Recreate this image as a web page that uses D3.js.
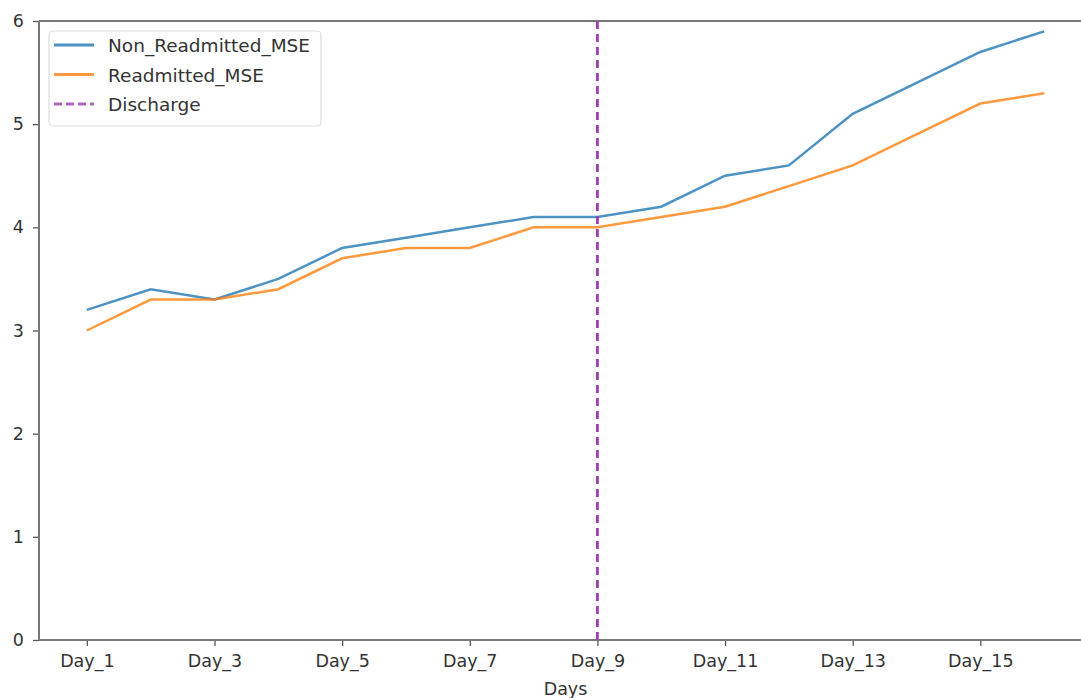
<!DOCTYPE html>
<html><head><meta charset="utf-8">
<script src="https://cdn.jsdelivr.net/npm/d3@7"></script>
<style>body{margin:0;background:#fff}svg{display:block}text{font-family:"DejaVu Sans",sans-serif;fill:#333}</style>
</head><body>
<svg id="c" width="1081" height="698"></svg>
<script>
const days = ["Day_1","Day_2","Day_3","Day_4","Day_5","Day_6","Day_7","Day_8","Day_9","Day_10","Day_11","Day_12","Day_13","Day_14","Day_15","Day_16"];
const nonReadmitted = [3.2,3.4,3.3,3.5,3.8,3.9,4.0,4.1,4.1,4.2,4.5,4.6,5.1,5.4,5.7,5.9];
const readmitted = [3.0,3.3,3.3,3.4,3.7,3.8,3.8,4.0,4.0,4.1,4.2,4.4,4.6,4.9,5.2,5.3];
const yTicks = [0,1,2,3,4,5,6];
const xTickLabels = ["Day_1","Day_3","Day_5","Day_7","Day_9","Day_11","Day_13","Day_15"];
const dischargeDay = "Day_9";

const svg = d3.select("#c");
const L=39, R=1092, T=21, B=640;
const x = d3.scaleLinear().domain([-0.75, days.length-1+0.75]).range([L,R]);
const y = d3.scaleLinear().domain([0,6]).range([B,T]);
const idx = d => days.indexOf(d);

// axes
const xa = svg.append("g").attr("transform",`translate(0,${B})`)
  .call(d3.axisBottom(x).tickValues(xTickLabels.map(idx)).tickFormat(i=>days[i]).tickSize(6).tickPadding(9));
const ya = svg.append("g").attr("transform",`translate(${L},0)`)
  .call(d3.axisLeft(y).tickValues(yTicks).tickFormat(d3.format("d")).tickSize(6).tickPadding(9));
[xa,ya].forEach(g=>{
  g.select(".domain").remove();
  g.selectAll("line").attr("stroke","#555").attr("stroke-width",1.3);
  g.selectAll("text").attr("font-size",17.5).attr("fill","#333").style("font-family","DejaVu Sans");
});
// spines
svg.append("line").attr("x1",L).attr("x2",R).attr("y1",B).attr("y2",B).attr("stroke","#777").attr("stroke-width",2);
svg.append("line").attr("x1",L).attr("x2",R).attr("y1",T).attr("y2",T).attr("stroke","#777").attr("stroke-width",2);
svg.append("line").attr("x1",L).attr("x2",L).attr("y1",T).attr("y2",B).attr("stroke","#777").attr("stroke-width",2);

const line = d3.line().x((d,i)=>x(i)).y(d=>y(d));
svg.append("path").datum(nonReadmitted).attr("d",line).attr("fill","none").attr("stroke","#1f77b4").attr("stroke-width",2.5).attr("opacity",0.8);
svg.append("path").datum(readmitted).attr("d",line).attr("fill","none").attr("stroke","#ff7f0e").attr("stroke-width",2.5).attr("opacity",0.8);
svg.append("line").attr("x1",x(idx(dischargeDay))).attr("x2",x(idx(dischargeDay))).attr("y1",T).attr("y2",B)
  .attr("stroke","#a03cb4").attr("stroke-width",2.8).attr("stroke-dasharray","8,5");

svg.append("text").attr("x",(L+R)/2).attr("y",695).attr("text-anchor","middle").attr("font-size",17.5).text("Days");

// legend
const lg = svg.append("g");
lg.append("rect").attr("x",49).attr("y",31).attr("width",272).attr("height",95).attr("rx",4)
  .attr("fill","#fff").attr("fill-opacity",0.8).attr("stroke","#ddd").attr("stroke-width",1.2);
const items = [["Non_Readmitted_MSE","#1f77b4",null],["Readmitted_MSE","#ff7f0e",null],["Discharge","#a03cb4","8,4"]];
items.forEach((it,i)=>{
  const yy = 45 + i*29.5;
  lg.append("line").attr("x1",54).attr("x2",94).attr("y1",yy).attr("y2",yy).attr("stroke",it[1]).attr("stroke-width",2.8)
    .attr("stroke-dasharray",it[2]).attr("opacity",0.8);
  lg.append("text").attr("x",108).attr("y",yy+7).attr("font-size",18.5).text(it[0]);
});
</script>
</body></html>
